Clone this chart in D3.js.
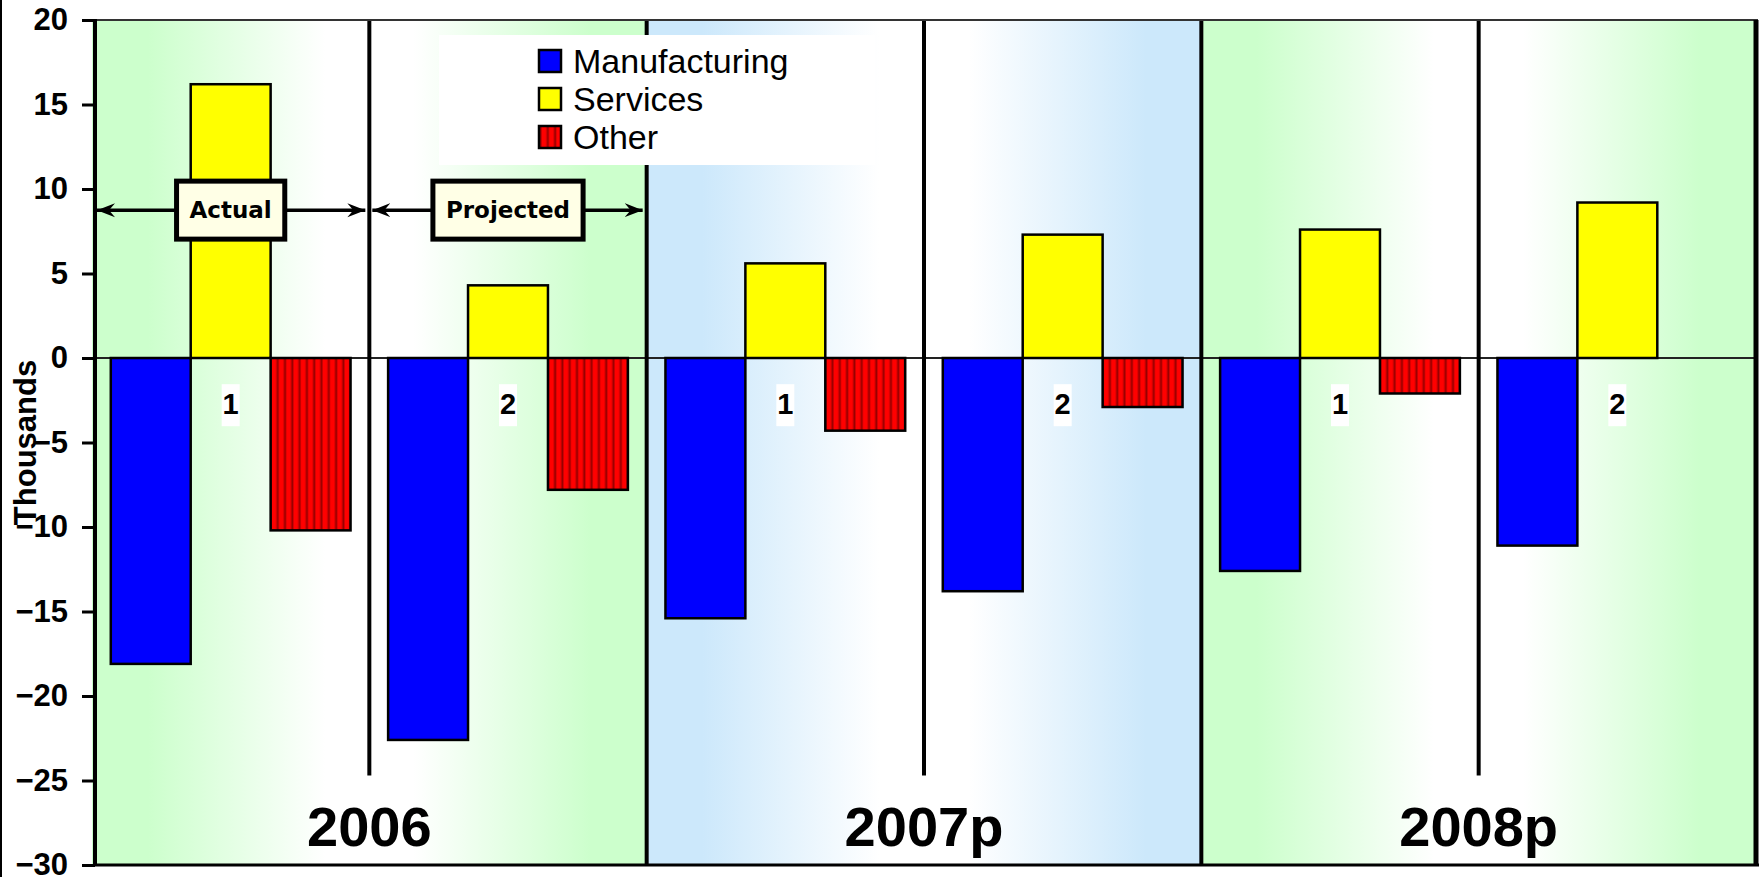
<!DOCTYPE html>
<html><head><meta charset="utf-8">
<script src="https://cdn.jsdelivr.net/npm/d3@7"></script>
<style>body{margin:0;background:#fff}svg{display:block}</style>
</head><body><svg id="c" width="1759" height="877"></svg>
<script>
// ---- data ----
const years = ["2006", "2007p", "2008p"];
const groups = ["2006-1", "2006-2", "2007p-1", "2007p-2", "2008p-1", "2008p-2"];
const groupLabels = ["1", "2", "1", "2", "1", "2"];
const series = ["Manufacturing", "Services", "Other"];
const manufacturing = [-18.1, -22.6, -15.4, -13.8, -12.6, -11.1];
const services = [16.2, 4.3, 5.6, 7.3, 7.6, 9.2];
const other = [-10.2, -7.8, -4.3, -2.9, -2.1, null];
const yTicks = [20, 15, 10, 5, 0, -5, -10, -15, -20, -25, -30];
const yearColors = ["#ccffcc", "#cce8fb", "#ccffcc"];
const annotationLabels = ["Actual", "Projected"];
const axisTitle = "Thousands";

// ---- layout ----
const W = 1759, H = 877;
const L = 92, R = 1756, T = 20, B = 865, AX = 95;
const svg = d3.select("#c");
const defs = svg.append("defs");

const y = d3.scaleLinear().domain([-30, 20]).range([B, T]);
const xYear = d3.scaleBand().domain(years).range([L, R]).padding(0);
const x0 = d3.scaleBand().domain(groups).range([L, R]).padding(0);
const x1 = d3.scaleBand().domain(series).range([0, x0.bandwidth()]).paddingInner(0).paddingOuter(0.235);

// gradients per year
years.forEach((yr, i) => {
  const g = defs.append("linearGradient").attr("id", "bg" + i)
    .attr("x1", "0").attr("x2", "1").attr("y1", "0").attr("y2", "0");
  [[0, yearColors[i]], [0.1, yearColors[i]], [0.42, "#ffffff"], [0.58, "#ffffff"], [0.9, yearColors[i]], [1, yearColors[i]]]
    .forEach(([o, c]) => g.append("stop").attr("offset", o).attr("stop-color", c));
});

// stripe pattern for Other
const pat = defs.append("pattern").attr("id", "stripes").attr("patternUnits", "userSpaceOnUse")
  .attr("width", 7.3).attr("height", 10);
const sg = defs.append("linearGradient").attr("id", "stripeGrad").attr("x1", 0).attr("x2", 1).attr("y1", 0).attr("y2", 0);
[[0, "#7a0000"], [0.3, "#ff0000"], [0.75, "#ff0000"], [1, "#a00000"]].forEach(([o, c]) => sg.append("stop").attr("offset", o).attr("stop-color", c));
pat.append("rect").attr("width", 7.3).attr("height", 10).attr("fill", "url(#stripeGrad)");

// arrow marker
defs.append("marker").attr("id", "arr").attr("viewBox", "-18 -8 19 16")
  .attr("refX", 0).attr("refY", 0).attr("markerWidth", 19).attr("markerHeight", 16)
  .attr("markerUnits", "userSpaceOnUse").attr("orient", "auto-start-reverse")
  .append("path").attr("d", "M0,0 L-18,-7 L-12,0 L-18,7 Z").attr("fill", "#000");

// backgrounds
svg.append("g").selectAll("rect").data(years).join("rect")
  .attr("x", d => xYear(d)).attr("y", T)
  .attr("width", xYear.bandwidth()).attr("height", B - T)
  .attr("fill", (d, i) => `url(#bg${i})`);

// outer left frame line
svg.append("line").attr("x1", 1).attr("x2", 1).attr("y1", 0).attr("y2", H).attr("stroke", "#000").attr("stroke-width", 2);

// group label boxes
const lab = svg.append("g");
groups.forEach((g, i) => {
  const cx = x0(g) + x0.bandwidth() / 2;
  lab.append("rect").attr("x", cx - 9).attr("y", y(-1.55)).attr("width", 18).attr("height", 42).attr("fill", "#fff");
  lab.append("text").attr("x", cx).attr("y", y(-2.75)).attr("text-anchor", "middle").attr("dominant-baseline", "central")
    .attr("font-family", "Liberation Sans, Arial, sans-serif").attr("font-weight", "bold").attr("font-size", 29)
    .text(groupLabels[i]);
});

// zero line
svg.append("line").attr("x1", L).attr("x2", R).attr("y1", y(0)).attr("y2", y(0)).attr("stroke", "#222").attr("stroke-width", 2);

// bars
const fills = { Manufacturing: "#0000ff", Services: "#ffff00", Other: "url(#stripes)" };
const seriesData = { Manufacturing: manufacturing, Services: services, Other: other };
const barData = [];
groups.forEach((g, i) => series.forEach(s => {
  const v = seriesData[s][i];
  if (v !== null && v !== undefined) barData.push({ g, s, v });
}));
svg.append("g").selectAll("rect").data(barData).join("rect")
  .attr("x", d => x0(d.g) + x1(d.s))
  .attr("width", x1.bandwidth())
  .attr("y", d => y(Math.max(0, d.v)))
  .attr("height", d => Math.abs(y(d.v) - y(0)))
  .attr("fill", d => fills[d.s])
  .attr("stroke", "#000").attr("stroke-width", 2.5);

// dividers
const div = svg.append("g").attr("stroke", "#000").attr("stroke-width", 4);
years.forEach((yr, i) => {
  const half = xYear(yr) + xYear.bandwidth() / 2;
  div.append("line").attr("x1", half).attr("x2", half).attr("y1", T).attr("y2", y(-24.7));
  if (i > 0) div.append("line").attr("x1", xYear(yr)).attr("x2", xYear(yr)).attr("y1", T).attr("y2", B);
});
// frame
svg.append("line").attr("x1", AX).attr("x2", R + 2).attr("y1", T).attr("y2", T).attr("stroke", "#333").attr("stroke-width", 2);
svg.append("line").attr("x1", AX).attr("x2", R + 3).attr("y1", B).attr("y2", B).attr("stroke", "#000").attr("stroke-width", 3);
svg.append("line").attr("x1", R).attr("x2", R).attr("y1", T).attr("y2", B).attr("stroke", "#000").attr("stroke-width", 5);

// year labels
svg.append("g").selectAll("text").data(years).join("text")
  .attr("x", d => xYear(d) + xYear.bandwidth() / 2).attr("y", y(-28.9))
  .attr("text-anchor", "middle")
  .attr("font-family", "Liberation Sans, Arial, sans-serif").attr("font-weight", "bold").attr("font-size", 56)
  .text(d => d);

// annotations
annotationLabels.forEach((t, i) => {
  const g = groups[i];
  const ay = y(8.75);
  svg.append("line").attr("x1", x0(g) + (i === 0 ? AX - L + 2 : 3)).attr("x2", x0(g) + x0.bandwidth() - 4)
    .attr("y1", ay).attr("y2", ay).attr("stroke", "#000").attr("stroke-width", 3.5)
    .attr("marker-start", "url(#arr)").attr("marker-end", "url(#arr)");
  const cx = x0(g) + x0.bandwidth() / 2;
  const txt = svg.append("text").attr("x", cx).attr("y", ay).attr("text-anchor", "middle").attr("dominant-baseline", "central")
    .attr("font-family", "DejaVu Sans, sans-serif").attr("font-weight", "bold").attr("font-size", 23).text(t);
  const bb = txt.node().getBBox();
  svg.insert("rect", () => txt.node())
    .attr("x", cx - bb.width / 2 - 13).attr("y", ay - 29).attr("width", bb.width + 26).attr("height", 58)
    .attr("fill", "#ffffe6").attr("stroke", "#000").attr("stroke-width", 5);
});

// legend
const lg = svg.append("g");
lg.append("rect").attr("x", 439).attr("y", 35).attr("width", 436).attr("height", 130).attr("fill", "#fff");
series.forEach((s, i) => {
  const cy = 61 + i * 38;
  lg.append("rect").attr("x", 539).attr("y", cy - 11).attr("width", 22).attr("height", 22)
    .attr("fill", fills[s]).attr("stroke", "#000").attr("stroke-width", 2.5);
  lg.append("text").attr("x", 573).attr("y", cy).attr("dominant-baseline", "central")
    .attr("font-family", "Liberation Sans, Arial, sans-serif").attr("font-size", 34).text(s);
});

// y axis
const ax = svg.append("g").attr("transform", `translate(${AX},0)`)
  .call(d3.axisLeft(y).tickValues(yTicks).tickSize(13).tickPadding(14).tickFormat(d3.format("d")));
ax.select(".domain").remove();
ax.selectAll(".tick line").attr("stroke", "#000").attr("stroke-width", 3);
ax.selectAll(".tick text").attr("font-family", "Liberation Sans, Arial, sans-serif").attr("font-weight", "bold")
  .attr("font-size", 31).attr("fill", "#000");
svg.append("line").attr("x1", AX).attr("x2", AX).attr("y1", T - 1).attr("y2", B + 1).attr("stroke", "#000").attr("stroke-width", 4);

svg.append("text").attr("transform", `translate(25,${y(-5)}) rotate(-90)`)
  .attr("text-anchor", "middle").attr("dominant-baseline", "central")
  .attr("font-family", "Liberation Sans, Arial, sans-serif").attr("font-weight", "bold").attr("font-size", 31)
  .text(axisTitle);
</script></body></html>
